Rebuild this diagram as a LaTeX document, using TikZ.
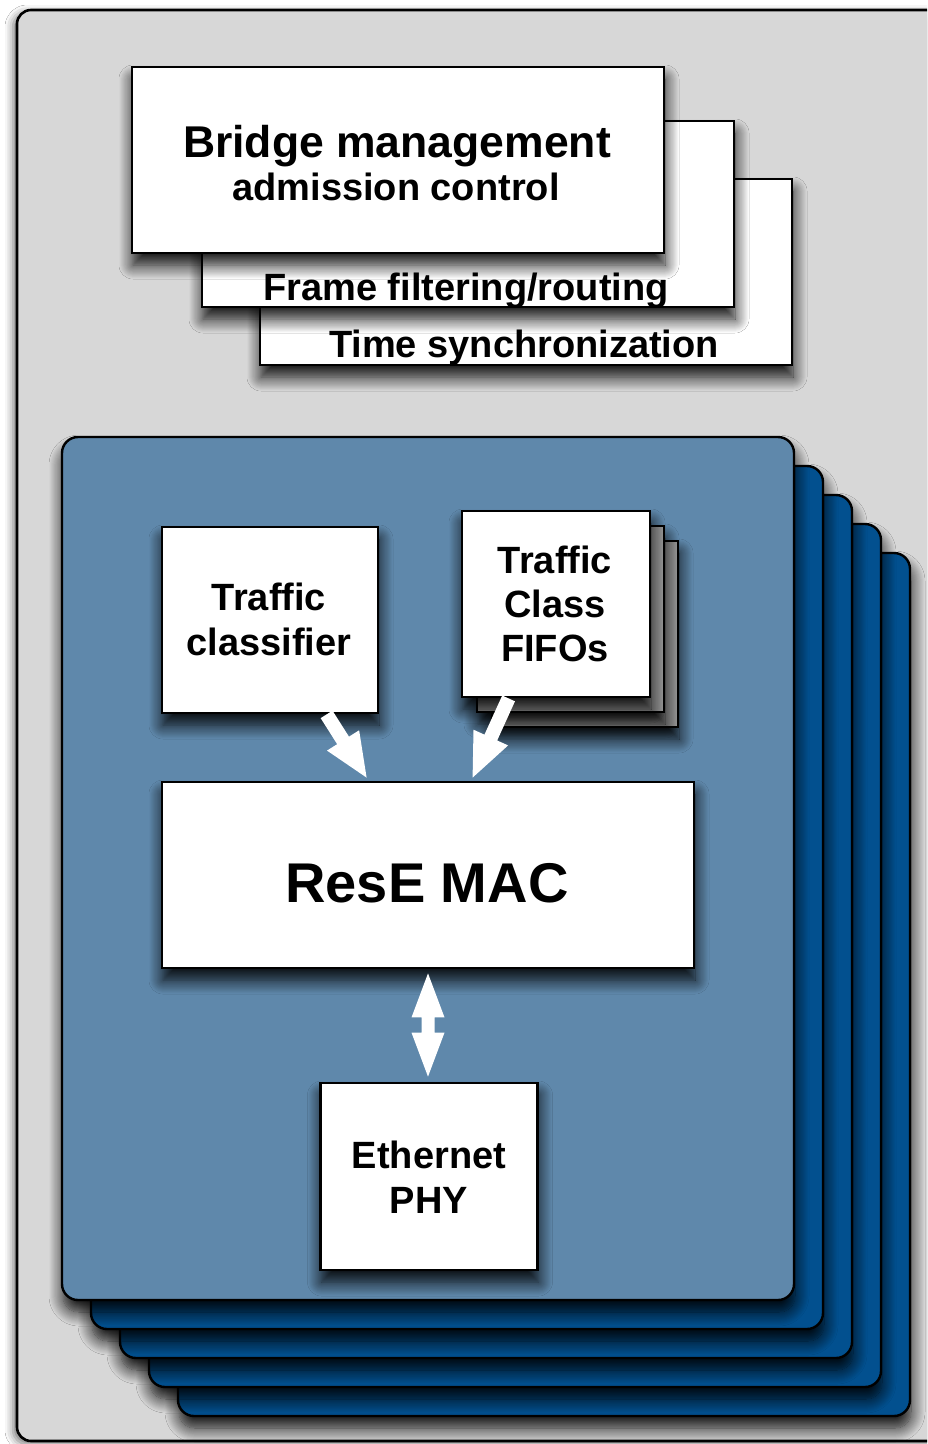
\documentclass[tikz,border=0pt]{standalone}
\usepackage{fontspec}
\setmainfont{Liberation Sans}
\usetikzlibrary{calc,shadows.blur}

\definecolor{panelgray}{HTML}{D7D7D7}
\definecolor{frontblue}{HTML}{5F88AB}
\definecolor{backblue}{HTML}{02508F}
\definecolor{fifogray}{HTML}{9C9C9C}

\tikzset{
  dropshadow/.style={blur shadow={shadow xshift=1pt, shadow yshift=-12pt,
      shadow blur radius=14pt, shadow blur steps=14, shadow opacity=95}},
  outerpanel/.style={draw=black, line width=2.6pt, fill=panelgray,
      rounded corners=14pt,
      blur shadow={shadow xshift=-4pt, shadow yshift=-3pt,
      shadow blur radius=8pt, shadow opacity=55}},
  backpanel/.style={draw=black, line width=2.4pt, fill=backblue,
      rounded corners=16pt, dropshadow},
  frontpanel/.style={draw=black, line width=2.4pt, fill=frontblue,
      rounded corners=16pt, dropshadow},
  card/.style={draw=black, line width=2.8pt, fill=white, rectangle,
      inner sep=0pt, dropshadow},
  graycard/.style={draw=black, line width=2.6pt, fill=fifogray, dropshadow},
  lbl/.style={font=\bfseries\fontsize{38}{44}\selectfont, inner sep=0pt,
      anchor=base},
}

% white block arrow: tail, tip, half shaft width, half head width
\newcommand\blockarrow[4]{%
  \coordinate (ba-h) at ($(#2)!44pt!(#1)$);
  \fill[white] ($(#1)!#3!90:(#2)$) -- ($(ba-h)!#3!90:(#2)$)
    -- ($(ba-h)!#4!90:(#2)$) -- (#2) -- ($(ba-h)!#4!-90:(#2)$)
    -- ($(ba-h)!#3!-90:(#2)$) -- ($(#1)!#3!-90:(#2)$) -- cycle;
}
% white double-headed block arrow between two points
\newcommand\dblarrow[2]{%
  \coordinate (da-a) at ($(#1)!44pt!(#2)$);
  \coordinate (da-b) at ($(#2)!44pt!(#1)$);
  \fill[white] (#1) -- ($(da-a)!16.5pt!90:(#2)$) -- ($(da-a)!6.5pt!90:(#2)$)
    -- ($(da-b)!6.5pt!90:(#2)$) -- ($(da-b)!16.5pt!90:(#2)$) -- (#2)
    -- ($(da-b)!16.5pt!-90:(#2)$) -- ($(da-b)!6.5pt!-90:(#2)$)
    -- ($(da-a)!6.5pt!-90:(#2)$) -- ($(da-a)!16.5pt!-90:(#2)$) -- cycle;
}

\begin{document}
\begin{tikzpicture}[x=1pt,y=-1pt]
\useasboundingbox (0,0) rectangle (927,1444);
\fill[white] (0,0) rectangle (927,1444);
\begin{scope}
\clip (0,0) rectangle (927,1444);

% bridge enclosure
\draw[outerpanel] (17,10) rectangle (965,1441);

% bridge services, back to front
\node[card, minimum width=532pt, minimum height=186pt] (ts) at (526,272) {};
\node[card, minimum width=532pt, minimum height=186pt] (ff) at (468,214) {};
\node[card, minimum width=532pt, minimum height=186pt] (bm) at (398,160) {};
\node[lbl, font=\bfseries\fontsize{44.5}{50}\selectfont] (bmA) at (397,157) {Bridge management};
\node[lbl] (bmB) at (396,200) {admission control};
\node[lbl] (ffT) at (466,300) {Frame filtering/routing};
\node[lbl] (tsT) at (524,357) {Time synchronization};

% port stack
\foreach \k in {4,3,2,1}
  \draw[backpanel] ({62+29*\k},{437+29*\k}) rectangle ({794+29*\k},{1300+29*\k});
\draw[frontpanel] (62,437) rectangle (794,1300);

% traffic class FIFO stack
\draw[graycard] (492,541) rectangle (678,727);
\draw[graycard] (477,526) rectangle (664,712);
\node[card, minimum width=188pt, minimum height=186pt] (fifo) at (556,604) {};
\node[lbl] (fifoA) at (555,573) {Traffic};
\node[lbl] (fifoB) at (555,617) {Class};
\node[lbl] (fifoC) at (555,661) {FIFOs};

% classifier
\node[card, minimum width=216pt, minimum height=186pt] (clf) at (270,620) {};
\node[lbl] (clfA) at (269,610) {Traffic};
\node[lbl] (clfB) at (269,655) {classifier};

% MAC
\node[card, minimum width=532pt, minimum height=186pt] (mac) at (428,875) {};
\node[lbl, font=\bfseries\fontsize{56}{62}\selectfont] (macT) at (427,902) {ResE MAC};

% PHY
\node[card, minimum width=217pt, minimum height=187pt] (phy) at (429,1176.5) {};
\node[lbl] (phyA) at (429,1168) {Ethernet};
\node[lbl] (phyB) at (429,1213) {PHY};

% connectors
\coordinate (clfOut) at ($(clf.south west)+(166,0)$);
\coordinate (macInL) at ($(mac.north west)+(206,-3)$);
\coordinate (fifoOut) at ($(fifo.south west)+(48,0)$);
\coordinate (macInR) at ($(mac.north west)+(312,-3)$);
\coordinate (macOut) at ($(mac.south)+(0,4)$);
\coordinate (phyIn) at ($(mac.south |- phy.north)+(0,-5)$);

\blockarrow{clfOut}{macInL}{7pt}{19pt}
\blockarrow{fifoOut}{macInR}{7pt}{19pt}
\dblarrow{macOut}{phyIn}
\end{scope}
\end{tikzpicture}
\end{document}
